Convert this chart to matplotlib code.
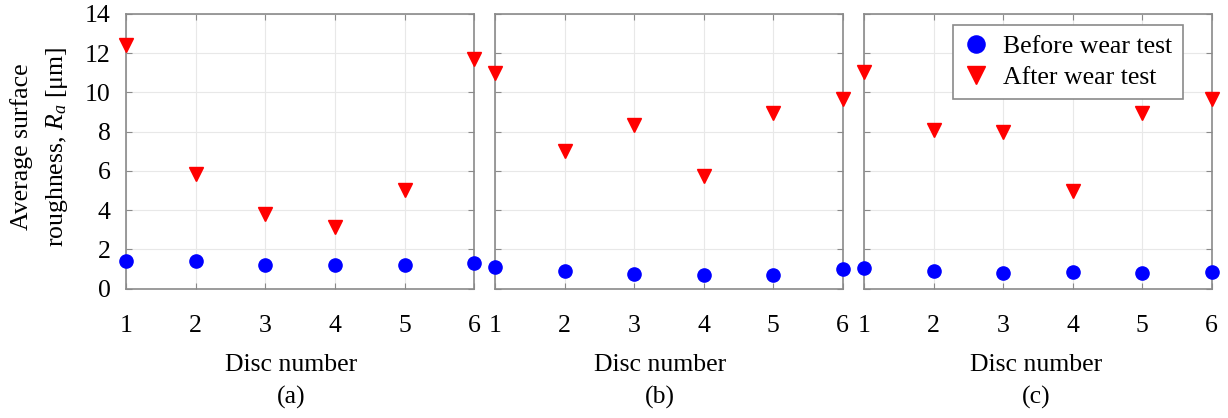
import matplotlib
matplotlib.use("Agg")
import matplotlib.pyplot as plt

plt.rcParams['font.family'] = ['Liberation Serif', 'DejaVu Serif']
plt.rcParams['mathtext.fontset'] = 'custom'
plt.rcParams['mathtext.rm'] = 'Liberation Serif'
plt.rcParams['mathtext.it'] = 'Liberation Serif:italic'

discs = [1, 2, 3, 4, 5, 6]
panel_labels = ['(a)', '(b)', '(c)']
before = [
    [1.40, 1.40, 1.19, 1.22, 1.22, 1.31],
    [1.11, 0.90, 0.73, 0.70, 0.70, 0.99],
    [1.04, 0.92, 0.82, 0.87, 0.78, 0.84],
]
after = [
    [12.40, 5.85, 3.79, 3.16, 5.03, 11.69],
    [10.98, 7.03, 8.34, 5.76, 8.95, 9.65],
    [11.06, 8.09, 8.00, 5.00, 8.94, 9.65],
]
yticks = [0, 2, 4, 6, 8, 10, 12, 14]

W, H = 1228, 418
fig = plt.figure(figsize=(W / 100, H / 100), dpi=100)

lefts = [126, 495.3, 864.3]
widths = [348.3, 347.4, 347.4]
top_px, bot_px = 14, 288.7
label_x = [291, 660, 1036]
spine_c = '#8a8a8a'
fs = 18.5

for i in range(3):
    ax = fig.add_axes([lefts[i] / W, (H - bot_px) / H, widths[i] / W, (bot_px - top_px) / H])
    ax.plot(discs, before[i], linestyle='none', marker='o', color='#0000ff',
            markersize=9.5, clip_on=False, zorder=5, label='Before wear test')
    ax.plot(discs, after[i], linestyle='none', marker='v', color='#ff0000',
            markersize=10, clip_on=False, zorder=5, label='After wear test')
    ax.set_xlim(1, 6)
    ax.set_ylim(0, 14)
    ax.set_xticks(discs)
    ax.set_yticks(yticks)
    ax.grid(True, color='#e8e8e8', linewidth=0.8)
    ax.set_axisbelow(True)
    for s in ax.spines.values():
        s.set_color(spine_c)
        s.set_linewidth(1.2)
    ax.tick_params(axis='both', direction='in', top=True, right=True, length=4,
                   color=spine_c, labelsize=fs, labelcolor='black')
    ax.tick_params(axis='x', pad=19)
    ax.tick_params(axis='y', pad=11)
    if i > 0:
        ax.set_yticklabels([])
    fig.text(label_x[i] / W, 1 - 365 / H, 'Disc number', ha='center', va='center', fontsize=fs)
    fig.text(label_x[i] / W, 1 - 397 / H, panel_labels[i], ha='center', va='center', fontsize=fs)
    if i == 2:
        leg = ax.legend(loc='upper right', bbox_to_anchor=(1 - 29 / 347.4, 1 - 11 / 274.7),
                        fontsize=fs, frameon=True, fancybox=False, borderpad=0.4,
                        handletextpad=0.55, labelspacing=0.3, handlelength=1.0,
                        borderaxespad=0, markerscale=1.3)
        leg.get_frame().set_edgecolor(spine_c)
        leg.get_frame().set_linewidth(1.2)
        leg.get_frame().set_alpha(1)

fig.text(40 / W, 1 - 147 / H, 'Average surface\nroughness, $R_a$ [μm]', rotation=90,
         ha='center', va='center', fontsize=fs, multialignment='center', linespacing=1.55)

fig.savefig('out.png', dpi=100)
